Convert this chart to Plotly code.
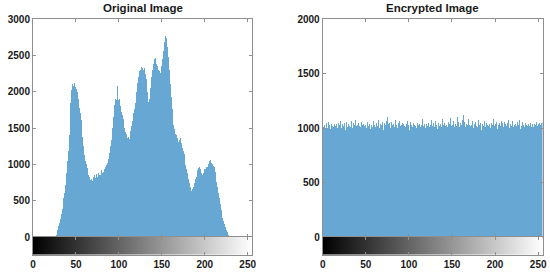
import plotly.graph_objects as go

gray_levels = list(range(256))

original_counts = (
    [0] * 25 +
    [5, 15, 30, 60, 100, 150, 190, 250, 320, 390,
     460, 530, 600, 720, 880, 1040, 1180, 1400, 1640, 1850,
     2020, 2100, 2080, 2120, 2060, 2090, 2040, 1990, 1900, 1780,
     1700, 1610, 1500, 1380, 1250, 1130, 1040, 1000, 950, 900,
     850, 820, 780, 800, 770, 830, 800, 850, 810, 870,
     830, 880, 860, 900, 850, 920, 880, 900, 930, 960,
     950, 990, 1020, 1080, 1150, 1250, 1330, 1420, 1500, 1650,
     1820, 1900, 1880, 2080, 1950, 1880, 1900, 1800, 1720, 1680,
     1620, 1560, 1500, 1440, 1420, 1360, 1380, 1350, 1400, 1460,
     1530, 1600, 1700, 1760, 1840, 1900, 2000, 2120, 2200, 2280,
     2300, 2340, 2320, 2520, 2300, 2330, 2250, 2180, 2000, 1860,
     1840, 1900, 2050, 2200, 2300, 2380, 2450, 2420, 2460, 2380,
     2350, 2300, 2290, 2260, 2250, 2350, 2450, 2560, 2680, 2760,
     2740, 2700, 2620, 2480, 2300, 2100, 1930, 1760, 1620, 1540,
     1480, 1420, 1400, 1360, 1310, 1290, 1330, 1360, 1300, 1220,
     1180, 1140, 1060, 990, 930, 880, 800, 740, 690, 650,
     630, 660, 690, 740, 800, 830, 880, 920, 950, 960,
     930, 880, 860, 900, 880, 930, 940, 960, 970, 1000,
     1020, 1050, 1060, 1020, 1000, 980, 960, 900, 840, 760,
     690, 610, 530, 450, 370, 310, 260, 220, 180, 140,
     100, 70, 45, 25, 12, 5] +
    [0] * 25
)

encrypted_counts = [
    1068, 1012, 1031, 998, 1045, 1020, 1003, 1057, 1026, 990, 1039, 1015, 1072, 1008, 1034, 1019,
    1041, 996, 1050, 1027, 1011, 1063, 1002, 1035, 1018, 1046, 985, 1029, 1054, 1013, 1037, 1022,
    1009, 1066, 1024, 1001, 1043, 1030, 1078, 1016, 1032, 994, 1049, 1021, 1006, 1059, 1027, 1040,
    1014, 1088, 1025, 1003, 1051, 1019, 1036, 992, 1047, 1028, 1010, 1062, 1023, 1005, 1044, 1031,
    1017, 1070, 1000, 1038, 1026, 1055, 1012, 983, 1042, 1029, 1064, 1105, 1033, 1048, 1020, 1002,
    1053, 1024, 1039, 1011, 1076, 1018, 1030, 997, 1045, 1061, 1015, 1027, 1004, 1050, 1035, 1022,
    1008, 1041, 1067, 1019, 1032, 986, 1056, 1025, 1013, 1047, 1030, 1071, 1016, 1002, 1043, 1028,
    1037, 1010, 1052, 1023, 1083, 1014, 1040, 999, 1034, 1060, 1021, 1046, 1006, 1029, 1074, 1018,
    1031, 1049, 1012, 1065, 1027, 995, 1042, 1020, 1058, 1036, 1009, 1081, 1024, 1048, 1015, 1039,
    1026, 1005, 1054, 1033, 1092, 1017, 1044, 1029, 1063, 1011, 1038, 1022, 1100, 1030, 1057, 1013,
    1045, 1028, 1069, 1118, 1036, 1052, 1008, 1041, 1024, 1079, 1032, 1015, 1050, 1027, 1061, 1004,
    1035, 1058, 1020, 1043, 1012, 1073, 1029, 1047, 978, 1038, 1055, 1021, 1066, 1010, 1044, 1030,
    1016, 1052, 1034, 1001, 1048, 1023, 1085, 1014, 1040, 1027, 1059, 993, 1031, 1046, 1019, 1068,
    1025, 1042, 1007, 1057, 1033, 1018, 1050, 1029, 1075, 1003, 1037, 1021, 1062, 1011, 1045, 1028,
    1039, 1014, 1053, 1026, 1070, 988, 1044, 1020, 1058, 1032, 1009, 1048, 1024, 1081, 1017, 1035,
    1022, 1047, 1013, 1036, 1060, 1005, 1041, 1028, 1054, 1016, 1038, 991, 1050, 1025, 1043, 1052,
]

x_ticks = [0, 50, 100, 150, 200, 250]
left_y_ticks = [0, 500, 1000, 1500, 2000, 2500, 3000]
right_y_ticks = [0, 500, 1000, 1500, 2000]
titles = ["Original Image", "Encrypted Image"]

W, H = 550, 275
BAR = "#66A8D3"
LINE = "#8f8f8f"
TXT = "#1a1a1a"
FONT = "Liberation Sans, Arial, sans-serif"

def px_x(a, b):
    return [a / W, b / W]

def px_y(top, bottom):
    return [1 - bottom / H, 1 - top / H]

left_dom = px_x(33, 252)
right_dom = px_x(322.7, 542.5)
hist_dom = px_y(19, 237)
cbar_dom = px_y(237, 254.5)

fig = go.Figure()

fig.add_trace(go.Bar(x=gray_levels, y=original_counts, width=1,
                     marker=dict(color=BAR, line=dict(width=0)),
                     xaxis="x", yaxis="y", showlegend=False))
fig.add_trace(go.Bar(x=gray_levels, y=encrypted_counts, width=1,
                     marker=dict(color=BAR, line=dict(width=0)),
                     xaxis="x2", yaxis="y2", showlegend=False))
for xa, ya in (("x3", "y3"), ("x4", "y4")):
    fig.add_trace(go.Heatmap(z=[gray_levels], x=gray_levels, y=[0],
                             colorscale=[[0, "black"], [1, "white"]],
                             showscale=False, xaxis=xa, yaxis=ya, hoverinfo="skip"))

tickfont = dict(family=FONT, size=10, color=TXT, weight="bold")
common_axis = dict(showline=True, linecolor=LINE, linewidth=1, mirror="ticks",
                   ticks="inside", ticklen=3, tickcolor=LINE, showgrid=False,
                   zeroline=False, fixedrange=True, automargin=False)

layout = dict(
    width=W, height=H, margin=dict(l=0, r=0, t=0, b=0, autoexpand=False),
    paper_bgcolor="white", plot_bgcolor="white", bargap=0,
    showlegend=False,
    xaxis=dict(domain=left_dom, range=[0, 255], tickvals=x_ticks, showticklabels=False,
               anchor="y", **common_axis),
    yaxis=dict(domain=hist_dom, range=[0, 3000], tickvals=left_y_ticks,
               tickfont=tickfont, anchor="x", **common_axis),
    xaxis2=dict(domain=right_dom, range=[0, 255], tickvals=x_ticks, showticklabels=False,
                anchor="y2", **common_axis),
    yaxis2=dict(domain=hist_dom, range=[0, 2000], tickvals=right_y_ticks,
                tickfont=tickfont, anchor="x2", **common_axis),
    xaxis3=dict(domain=left_dom, range=[0, 255], tickvals=x_ticks, tickfont=tickfont,
                anchor="y3", **common_axis),
    yaxis3=dict(domain=cbar_dom, range=[-0.5, 0.5], showticklabels=False, tickvals=[],
                anchor="x3", **common_axis),
    xaxis4=dict(domain=right_dom, range=[0, 255], tickvals=x_ticks, tickfont=tickfont,
                anchor="y4", **common_axis),
    yaxis4=dict(domain=cbar_dom, range=[-0.5, 0.5], showticklabels=False, tickvals=[],
                anchor="x4", **common_axis),
)
fig.update_layout(**layout)

for dom, title in zip((left_dom, right_dom), titles):
    fig.add_annotation(text=title, x=(dom[0] + dom[1]) / 2, y=1 - 8.5 / H,
                       xref="paper", yref="paper", showarrow=False,
                       xanchor="center", yanchor="middle",
                       font=dict(family=FONT, size=11.5, color=TXT, weight="bold"))

fig.write_html("out.html",
               config={"displayModeBar": False, "staticPlot": True},
               post_script="document.body.style.margin='0';document.body.style.overflow='hidden';")
